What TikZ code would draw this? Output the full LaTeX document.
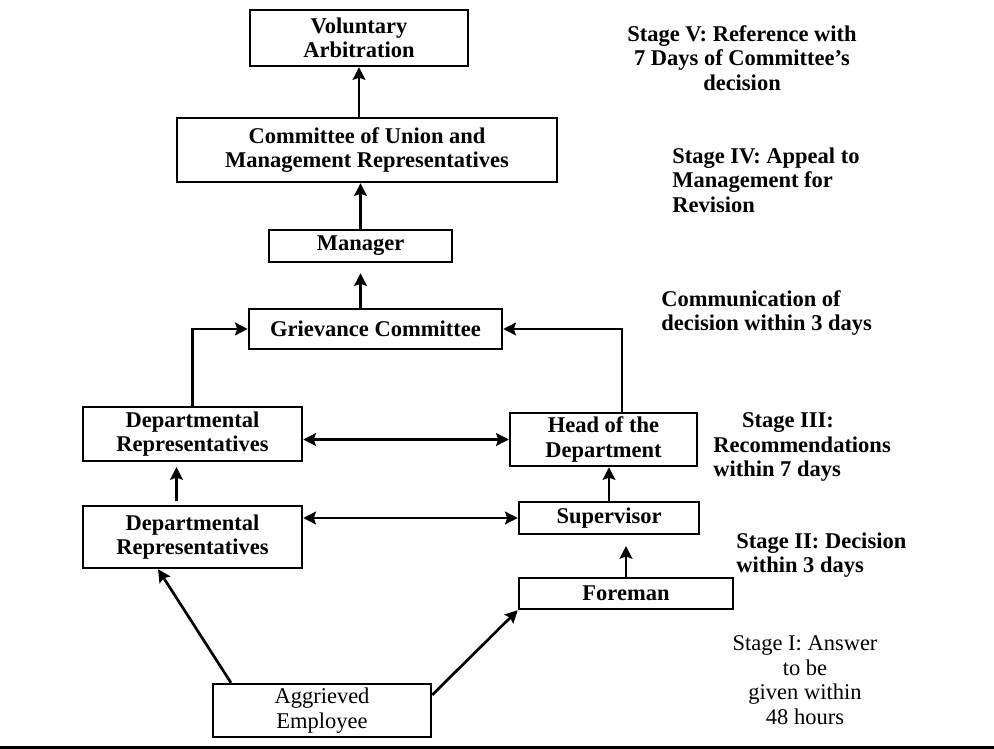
\documentclass[tikz,border=0pt]{standalone}
\usepackage{fontspec}
\setmainfont{Liberation Serif}
\usepackage{tikz}
\usetikzlibrary{shapes.geometric, arrows, arrows.meta}
\usetikzlibrary{positioning}
\tikzstyle{box} = [rectangle, draw=black, line width=1.7pt, align=center, inner sep=1pt, font=\fontsize{16}{17.5}\selectfont\bfseries]
\tikzstyle{arrow} = [line width=1.9pt,-{Stealth[length=9pt,width=9pt,inset=1.5pt]}]
\tikzstyle{dblarrow} = [line width=1.9pt,{Stealth[length=9pt,width=9pt,inset=1.5pt]}-{Stealth[length=9pt,width=9pt,inset=1.5pt]}]
\tikzstyle{note} = [inner sep=0pt, font=\fontsize{16}{17.5}\selectfont\bfseries]

\begin{document}
\begin{tikzpicture}[x=0.025cm, y=-0.025cm]
		\useasboundingbox (0,0) rectangle (994,749);
		\coordinate (arbitration) at (359,38);
		\coordinate (committee) at (367,150);
		\coordinate (manager) at (360.5,246);
		\coordinate (grievance) at (375.5,329);
		\coordinate (deptup) at (192.5,434);
		\coordinate (deptlow) at (192.5,537);
		\coordinate (head) at (603.5,439.5);
		\coordinate (supervisor) at (609,518);
		\coordinate (foreman) at (626,593.5);
		\coordinate (aggrieved) at (322,710.5);
		% Upper levels
		\begin{scope}[every node/.style={box}]
		\node[name=arbitration, minimum width=5.45cm, minimum height=1.4cm] at (arbitration) {Voluntary\\Arbitration};
		\node[name=committee, minimum width=9.5cm, minimum height=1.6cm] at (committee) {Committee of Union and\\Management Representatives};
		\node[name=manager, minimum width=4.575cm, minimum height=0.8cm] at (manager) {Manager};
		\node[name=grievance, minimum width=6.325cm, minimum height=1.0cm] at (grievance) {Grievance Committee};
		\end{scope}
		% Department level
		\begin{scope}[every node/.style={box}]
		\node[name=deptup, minimum width=5.475cm, minimum height=1.35cm] at (deptup) {Departmental\\Representatives};
		\node[name=deptlow, minimum width=5.475cm, minimum height=1.55cm] at (deptlow) {Departmental\\Representatives};
		\node[name=head, minimum width=4.675cm, minimum height=1.325cm] at (head) {Head of the\\Department};
		\node[name=supervisor, minimum width=4.5cm, minimum height=0.8cm] at (supervisor) {Supervisor};
		\node[name=foreman, minimum width=5.35cm, minimum height=0.775cm] at (foreman) {Foreman};
		\node[name=aggrieved, minimum width=5.45cm, minimum height=1.325cm, font=\fontsize{16}{17.5}\selectfont] at (aggrieved) {Aggrieved\\Employee};
		\end{scope}
		\draw [arrow] (arbitration.south |- committee.north)--(arbitration.south);
		\draw [arrow] (manager.north)--(manager.north |- committee.south);
		\draw [arrow, shorten >=0.25cm] (grievance.north -| manager.south)--(manager.south);
		\draw [arrow] (deptup.north) |- (grievance.west);
		\draw [arrow] ([xshift=0.46cm]head.north) |- (grievance.east);
		\draw [arrow, shorten <=0.1cm, shorten >=0.12cm] ([xshift=-0.4cm]deptlow.north)--([xshift=-0.4cm]deptup.south);
		\draw [dblarrow] (deptup.east |- head.west)--(head.west);
		\draw [dblarrow] (deptlow.east |- supervisor.west)--(supervisor.west);
		\draw [arrow] (supervisor.north)--(supervisor.north |- head.south);
		\draw [arrow, shorten >=0.27cm] (foreman.north)--(foreman.north |- supervisor.south);
		\draw [arrow] ([xshift=0.48cm]aggrieved.north west)--([xshift=-0.86cm]deptlow.south);
		\draw [arrow] ([yshift=0.39cm]aggrieved.east)--(foreman.south west);
		% Stages
		\node[note, align=center, name=stagefive] at (742,58) {Stage V: Reference with\\7 Days of Committee's\\decision};
		\node[note, align=left, anchor=west, name=stagefour] at (672,180) {Stage IV: Appeal to\\Management for\\Revision};
		\node[note, align=left, anchor=west, name=communication] at (661,313) {Communication of\\decision within 3 days};
		\node[note, align=left, anchor=west, name=stagethree] at (713,447) {\hspace*{0.72cm}Stage III:\\Recommendations\\within 7 days};
		\node[note, align=left, anchor=west, name=stagetwo] at (736,555) {Stage II: Decision\\within 3 days};
		\node[note, align=center, name=stageone, font=\fontsize{16}{17.5}\selectfont] at (805,680) {Stage I: Answer\\to be\\given within\\48 hours};
		% Bottom rule
		\fill (0,746) rectangle (994,749);
		\end{tikzpicture}
\end{document}
